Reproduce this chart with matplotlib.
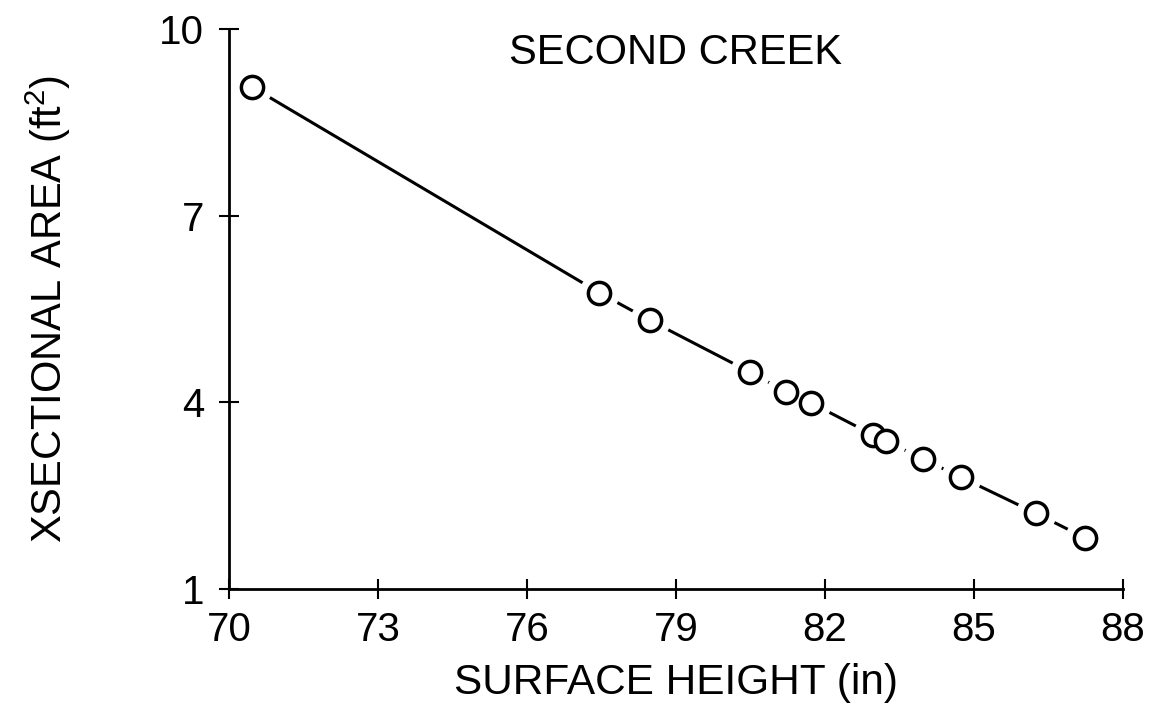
import matplotlib
matplotlib.use("Agg")
import matplotlib.pyplot as plt

# Surface height (in) vs cross-sectional area (ft^2) at Second Creek
surface_height = [70.46, 77.46, 78.47, 80.48, 81.22, 81.72, 82.96, 83.23, 83.97, 84.73, 86.24, 87.24]
xsection_area = [9.07, 5.76, 5.32, 4.49, 4.17, 3.99, 3.48, 3.38, 3.09, 2.80, 2.22, 1.82]

x_ticks = [70, 73, 76, 79, 82, 85, 88]
y_ticks = [1, 4, 7, 10]

plt.rcParams['font.family'] = ['Liberation Sans', 'DejaVu Sans']
plt.rcParams['mathtext.default'] = 'regular'

fig = plt.figure(figsize=(11.61, 7.23), dpi=100)
ax = fig.add_axes([0.1972, 0.1853, 0.7701, 0.7746])

# connecting line, broken around each marker by a white halo
ax.plot(surface_height, xsection_area, color='black', lw=2.2, zorder=1,
        solid_capstyle='butt')
ax.plot(surface_height, xsection_area, ls='none', marker='o', ms=29,
        mfc='white', mec='none', zorder=2)
ax.plot(surface_height, xsection_area, ls='none', marker='o', ms=16,
        mfc='white', mec='black', mew=2.5, zorder=4)

ax.set_xlim(70, 88)
ax.set_ylim(1, 10)
ax.set_xticks(x_ticks)
ax.set_yticks(y_ticks)
ax.set_xticklabels([str(v) for v in x_ticks])
ax.set_yticklabels([str(v) for v in y_ticks])

for side in ('top', 'right'):
    ax.spines[side].set_visible(False)
for side in ('left', 'bottom'):
    ax.spines[side].set_linewidth(2.0)
    ax.spines[side].set_zorder(3)

ax.tick_params(direction='inout', length=14, width=1.5, labelsize=29,
               color='black')
ax.tick_params(axis='x', pad=9)
ax.tick_params(axis='y', pad=11)

ax.set_xlabel('SURFACE HEIGHT (in)', fontsize=30.5, labelpad=10)
ax.set_ylabel('XSECTIONAL AREA (ft$^{2}$)', fontsize=30, labelpad=62)

ax.text(0.5, 0.957, 'SECOND CREEK', transform=ax.transAxes,
        ha='center', va='center', fontsize=30)

fig.savefig('out.png', dpi=100)
